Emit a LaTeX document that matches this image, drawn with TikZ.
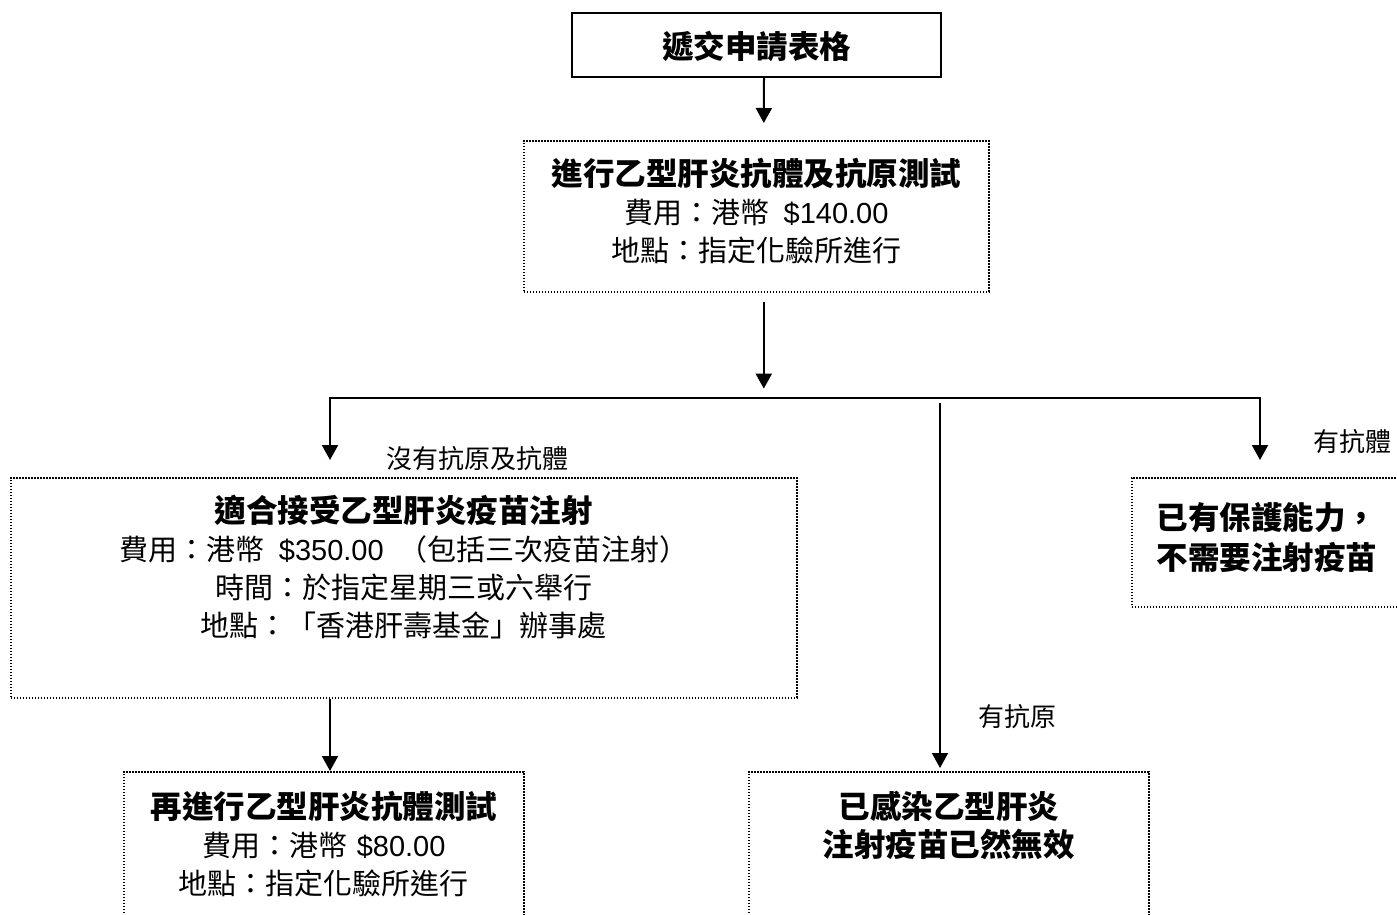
\documentclass[tikz,border=0pt]{standalone}
\usepackage{fontspec}
\setmainfont{Liberation Sans}
\newfontfamily\cjk{Noto Sans CJK TC}
\usetikzlibrary{arrows.meta,positioning}
\newcommand\hd[1]{{\fontsize{31.5}{38}\selectfont\bfseries #1}}
\newcommand\en[1]{{\rmfamily #1}}

\begin{document}
\begin{tikzpicture}[
	x=1pt, y=-1pt,
	box/.style={anchor=north west, inner xsep=0pt, inner ysep=0pt, align=center,
		font=\fontsize{29}{38}\selectfont\cjk},
	solidbox/.style={box, draw, line width=2pt},
	dotbox/.style={box, draw, line width=1.6pt, dash pattern=on 1.6pt off 1.4pt},
	arr/.style={line width=2pt, -{Triangle[width=16pt,length=15pt]}},
	lbl/.style={font=\fontsize{26}{30}\selectfont\cjk, anchor=west, inner sep=0pt}]
\useasboundingbox (0,0) rectangle (1397,914);
\clip (0,0) rectangle (1397,914);
\node[solidbox, text width=369pt, text height=45pt, text depth=19pt] (form) at (571,12)
	{\hd{遞交申請表格}};
\node[dotbox, text width=465pt, text height=45pt, text depth=106pt] (test) at (523,140)
	{\hd{進行乙型肝炎抗體及抗原測試}\\
	費用：港幣\enskip\en{\$140.00}\\
	地點：指定化驗所進行};
\node[dotbox, text width=786pt, text height=45pt, text depth=175pt] (plan) at (10,477)
	{\hd{適合接受乙型肝炎疫苗注射}\\
	費用：港幣\enskip\en{\$350.00}\enskip（包括三次疫苗注射）\\
	時間：於指定星期三或六舉行\\
	地點：「香港肝壽基金」辦事處};
\node[dotbox, text width=270pt, text height=52pt, text depth=77pt] (prot) at (1131,477)
	{\hd{已有保護能力，}\\[2pt]
	\hd{不需要注射疫苗}};
\node[dotbox, text width=400pt, text height=47pt, text depth=189pt] (redo) at (123,771)
	{\hd{再進行乙型肝炎抗體測試}\\
	費用：港幣 \en{\$80.00}\\
	地點：指定化驗所進行};
\node[dotbox, text width=400pt, text height=47pt, text depth=189pt] (infect) at (748,771)
	{\hd{已感染乙型肝炎}\\
	\hd{注射疫苗已然無效}};
\coordinate (bl) at (330,398);
\coordinate (br) at (1260,398);
\coordinate (mid) at (940,403);
\draw[arr] ([xshift=7.5pt]form.south) -- ([xshift=7.5pt,yshift=17pt]test.north);
\draw[arr] ([xshift=7.5pt,yshift=-9pt]test.south) -- ++(0,87);
\draw[line width=2pt, line cap=rect] (bl) -- (br);
\draw[arr] (bl) -- node[lbl, pos=.97, xshift=55pt] {沒有抗原及抗體} ([yshift=17pt]bl |- plan.north);
\draw[arr] (br) -- node[lbl, pos=.71, xshift=52pt] {有抗體} ([yshift=17pt]br |- prot.north);
\draw[arr] (mid) -- node[lbl, pos=.86, xshift=37pt] {有抗原} ([yshift=3pt]mid |- infect.north);
\draw[arr] (plan.south -| bl) -- (redo.north -| bl);
\end{tikzpicture}
\end{document}
